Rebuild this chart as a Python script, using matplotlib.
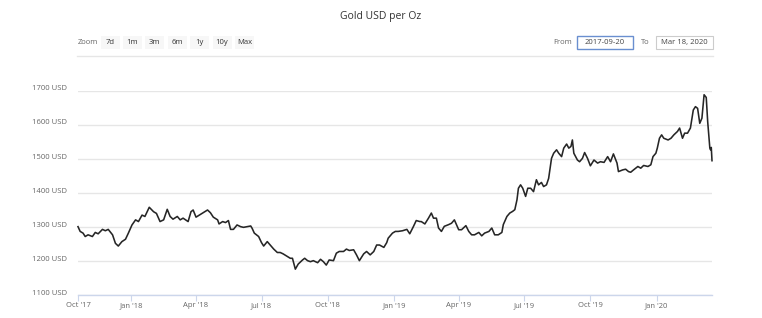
import matplotlib
matplotlib.use("Agg")
from datetime import datetime
import matplotlib.dates as mdates
import matplotlib.pyplot as plt
import matplotlib.transforms as mtransforms
from matplotlib.patches import Rectangle

plt.rcParams['font.family'] = ['Open Sans', 'DejaVu Sans']

# gold price (USD per oz)
dates = [
    '2017-10-19', '2017-10-22', '2017-10-26', '2017-10-29', '2017-11-02', '2017-11-08',
    '2017-11-12', '2017-11-16', '2017-11-22', '2017-11-26', '2017-11-30', '2017-12-06',
    '2017-12-10', '2017-12-14', '2017-12-19', '2017-12-24', '2017-12-28', '2018-01-02',
    '2018-01-07', '2018-01-11', '2018-01-16', '2018-01-20', '2018-01-26', '2018-02-01',
    '2018-02-05', '2018-02-10', '2018-02-15', '2018-02-20', '2018-02-24', '2018-02-28',
    '2018-03-06', '2018-03-10', '2018-03-14', '2018-03-21', '2018-03-25', '2018-03-28',
    '2018-04-01', '2018-04-04', '2018-04-08', '2018-04-13', '2018-04-17', '2018-04-21',
    '2018-04-25', '2018-05-01', '2018-05-03', '2018-05-08', '2018-05-12', '2018-05-16',
    '2018-05-19', '2018-05-23', '2018-05-28', '2018-06-02', '2018-06-06', '2018-06-11',
    '2018-06-16', '2018-06-18', '2018-06-21', '2018-06-27', '2018-07-01', '2018-07-04',
    '2018-07-09', '2018-07-13', '2018-07-18', '2018-07-23', '2018-07-27', '2018-07-31',
    '2018-08-06', '2018-08-10', '2018-08-13', '2018-08-17', '2018-08-21', '2018-08-27',
    '2018-08-30', '2018-09-03', '2018-09-07', '2018-09-11', '2018-09-17', '2018-09-21',
    '2018-09-25', '2018-09-29', '2018-10-03', '2018-10-09', '2018-10-13', '2018-10-17',
    '2018-10-23', '2018-10-27', '2018-10-31', '2018-11-06', '2018-11-10', '2018-11-14',
    '2018-11-20', '2018-11-24', '2018-11-29', '2018-12-04', '2018-12-08', '2018-12-12',
    '2018-12-18', '2018-12-22', '2018-12-24', '2018-12-30', '2019-01-03', '2019-01-07',
    '2019-01-13', '2019-01-19', '2019-01-23', '2019-01-28', '2019-02-01', '2019-02-06',
    '2019-02-08', '2019-02-13', '2019-02-18', '2019-02-22', '2019-02-25', '2019-03-01',
    '2019-03-04', '2019-03-08', '2019-03-12', '2019-03-18', '2019-03-22', '2019-03-26',
    '2019-04-01', '2019-04-05', '2019-04-11', '2019-04-15', '2019-04-19', '2019-04-23',
    '2019-04-29', '2019-05-03', '2019-05-07', '2019-05-13', '2019-05-17', '2019-05-21',
    '2019-05-26', '2019-05-31', '2019-06-02', '2019-06-07', '2019-06-11', '2019-06-15',
    '2019-06-18', '2019-06-21', '2019-06-23', '2019-06-26', '2019-06-29', '2019-07-03',
    '2019-07-06', '2019-07-10', '2019-07-14', '2019-07-18', '2019-07-21', '2019-07-25',
    '2019-07-28', '2019-08-01', '2019-08-04', '2019-08-08', '2019-08-11', '2019-08-15',
    '2019-08-18', '2019-08-22', '2019-08-25', '2019-08-29', '2019-09-01', '2019-09-04',
    '2019-09-06', '2019-09-08', '2019-09-13', '2019-09-16', '2019-09-20', '2019-09-23',
    '2019-09-27', '2019-10-01', '2019-10-06', '2019-10-11', '2019-10-15', '2019-10-20',
    '2019-10-25', '2019-10-29', '2019-11-02', '2019-11-07', '2019-11-09', '2019-11-15',
    '2019-11-19', '2019-11-23', '2019-11-26', '2019-11-30', '2019-12-06', '2019-12-10',
    '2019-12-14', '2019-12-20', '2019-12-24', '2019-12-27', '2019-12-31', '2020-01-02',
    '2020-01-05', '2020-01-08', '2020-01-11', '2020-01-17', '2020-01-21', '2020-01-25',
    '2020-01-30', '2020-02-02', '2020-02-06', '2020-02-09', '2020-02-13', '2020-02-17',
    '2020-02-21', '2020-02-24', '2020-02-27', '2020-03-01', '2020-03-04', '2020-03-07',
    '2020-03-10', '2020-03-12', '2020-03-15', '2020-03-16', '2020-03-17', '2020-03-18',
]
prices = [
    1301, 1287, 1282, 1272, 1277, 1272,
    1284, 1280, 1293, 1289, 1293, 1277,
    1252, 1244, 1257, 1264, 1282, 1306,
    1321, 1316, 1335, 1331, 1358, 1345,
    1340, 1316, 1321, 1352, 1331, 1323,
    1331, 1321, 1326, 1316, 1345, 1350,
    1329, 1333, 1338, 1345, 1350, 1342,
    1329, 1321, 1309, 1316, 1313, 1319,
    1293, 1293, 1306, 1301, 1299, 1301,
    1303, 1296, 1282, 1272, 1254, 1244,
    1257, 1247, 1235, 1225, 1225, 1221,
    1213, 1208, 1208, 1176, 1191, 1203,
    1208, 1201, 1198, 1201, 1195, 1205,
    1198, 1188, 1203, 1201, 1223, 1228,
    1228, 1235, 1231, 1233, 1218, 1201,
    1221, 1228, 1218, 1228, 1247, 1247,
    1240, 1254, 1267, 1282, 1287, 1287,
    1289, 1293, 1280, 1301, 1319, 1316,
    1316, 1309, 1326, 1341, 1326, 1326,
    1297, 1287, 1302, 1307, 1311, 1321,
    1292, 1292, 1304, 1287, 1277, 1277,
    1284, 1274, 1282, 1287, 1297, 1277,
    1277, 1284, 1307, 1331, 1341, 1346,
    1351, 1380, 1414, 1424, 1414, 1390,
    1414, 1414, 1404, 1439, 1424, 1431,
    1419, 1424, 1443, 1502, 1517, 1527,
    1517, 1507, 1532, 1544, 1532, 1537,
    1556, 1517, 1497, 1492, 1502, 1519,
    1502, 1480, 1497, 1488, 1492, 1490,
    1507, 1492, 1515, 1488, 1463, 1468,
    1470, 1463, 1461, 1468, 1478, 1473,
    1481, 1478, 1483, 1507, 1517, 1532,
    1561, 1571, 1561, 1556, 1561, 1571,
    1581, 1591, 1561, 1576, 1576, 1591,
    1644, 1654, 1649, 1605, 1620, 1689,
    1681, 1610, 1532, 1527, 1534, 1495,
]

tick_dates = ['2017-10-19', '2018-01-01', '2018-04-01', '2018-07-01', '2018-10-01',
              '2019-01-01', '2019-04-01', '2019-07-01', '2019-10-01', '2020-01-01']
tick_labels = ["Oct '17", "Jan '18", "Apr '18", "Jul '18", "Oct '18",
               "Jan '19", "Apr '19", "Jul '19", "Oct '19", "Jan '20"]
y_ticks = [1100, 1200, 1300, 1400, 1500, 1600, 1700]
zoom_buttons = ['7d', '1m', '3m', '6m', '1y', '10y', 'Max']

xs = [datetime.strptime(d, '%Y-%m-%d') for d in dates]

W, H = 762, 318
fig = plt.figure(figsize=(W / 100, H / 100), dpi=100)
fig.patch.set_facecolor('white')

ax = fig.add_axes([78 / W, 1 - 295 / H, 634 / W, 204 / H])
ax.plot(xs, prices, color='#262626', lw=1.15, solid_joinstyle='round', clip_on=False)

ax.set_xlim(datetime(2017, 10, 19), datetime(2020, 3, 18))
ax.set_ylim(1100, 1700)

ax.set_yticks(y_ticks)
ax.set_yticklabels(['%d USD' % v for v in y_ticks])
ax.yaxis.grid(True, color='#e6e6e6', lw=1)
ax.tick_params(axis='y', length=0, pad=8, labelsize=5.5, labelcolor='#666666')
offset = mtransforms.ScaledTranslation(0, 3 / 100, fig.dpi_scale_trans)
for lab in ax.get_yticklabels():
    lab.set_transform(lab.get_transform() + offset)

ax.set_xticks([datetime.strptime(d, '%Y-%m-%d') for d in tick_dates])
ax.set_xticklabels(tick_labels)
ax.tick_params(axis='x', length=4, width=0.8, color='#ccd6eb', pad=1,
               labelsize=5.5, labelcolor='#666666')

for s in ['top', 'right', 'left']:
    ax.spines[s].set_visible(False)
ax.spines['bottom'].set_color('#ccd6eb')
ax.spines['bottom'].set_linewidth(1)
ax.set_axisbelow(True)

# title and range selector, laid out in pixel coordinates
ov = fig.add_axes([0, 0, 1, 1], zorder=-1)
ov.set_xlim(0, W)
ov.set_ylim(H, 0)
ov.axis('off')

ov.text(381, 16, 'Gold USD per Oz', ha='center', va='center', fontsize=7.5, color='#333333')

ov.text(78, 42.5, 'Zoom', ha='left', va='center', fontsize=5.5, color='#666666')
for i, b in enumerate(zoom_buttons):
    cx = 110 + i * 22.4
    ov.add_patch(Rectangle((cx - 9.5, 36), 19, 13, fc='#f7f7f7', ec='none'))
    ov.text(cx, 42.5, b, ha='center', va='center', fontsize=5.5, color='#333333')

ov.plot([77, 713], [56, 56], color='#e6e6e6', lw=1)

ov.text(563, 42.5, 'From', ha='center', va='center', fontsize=5.5, color='#666666')
ov.add_patch(Rectangle((577, 36), 56, 13, fc='white', ec='#6a8fd0', lw=1))
ov.text(605, 42.5, '2017-09-20', ha='center', va='center', fontsize=5.5, color='#444444')
ov.text(645, 42.5, 'To', ha='center', va='center', fontsize=5.5, color='#666666')
ov.add_patch(Rectangle((656, 36), 57, 13, fc='white', ec='#cccccc', lw=0.8))
ov.text(684.5, 42.5, 'Mar 18, 2020', ha='center', va='center', fontsize=5.5, color='#444444')

fig.savefig('out.png', dpi=100)
